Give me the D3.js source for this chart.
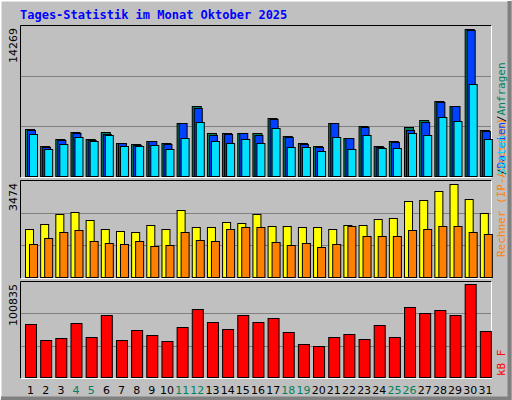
<!DOCTYPE html><html><head><script src="https://cdn.jsdelivr.net/npm/d3@7"></script>
<style>body{margin:0;background:#fff}</style></head><body><svg id="c" width="512" height="400"></svg>
<script>
const days=d3.range(1,32).map(String);
const weekend=["4","5","11","12","18","19","25","26"];
const anfragen=[4507,2911,3568,4226,3568,4226,3193,3099,3380,3193,5071,6667,4132,4132,4132,4132,5540,3850,3193,2911,5071,3662,4789,2911,3380,4695,5352,7136,6667,13897,4413];
const dateien=[4413,2817,3474,4132,3474,4038,3193,3005,3380,3099,5071,6479,3944,4038,4132,3944,5446,3756,3099,2817,5071,3662,4695,2817,3287,4413,5165,7043,6667,13803,4319];
const seiten=[4038,2629,3099,3756,3380,3944,2911,2911,3005,2629,3662,5165,3380,3193,3568,3193,4601,2817,2817,2441,3756,2629,3944,2723,2723,4132,3944,5634,5258,8733,3568];
const besuche=[1735,1912,2266,2336,2053,1735,1664,1628,1876,1735,2407,1805,1805,1982,1947,2266,1841,1841,1805,1805,1735,1876,1876,2089,2124,2726,2761,3080,3328,2797,2301];
const rechner=[1204,1416,1628,1699,1310,1239,1204,1310,1133,1168,1628,1345,1310,1735,1805,1805,1274,1168,1239,1097,1204,1841,1487,1487,1487,1699,1735,1841,1841,1628,1558];
const kbytes=[56133,39501,41580,57173,42620,65489,39501,49896,44699,38462,53015,71726,58212,50936,65489,58212,62370,47817,35343,33264,42620,45738,40541,55094,42620,73805,67568,70686,65489,97713,48857];
const maxTop=14269,maxMid=3474,maxBot=100835;
const svg=d3.select("#c");
svg.append("rect").attr("x",0).attr("y",0).attr("width",512).attr("height",400).attr("fill","#c0c0c0");
svg.append("path").attr("d","M0.5,399.5V0.5H511.5").attr("stroke","#fff").attr("stroke-width",2).attr("fill","none");
svg.append("path").attr("d","M1,398.5H509.5V1").attr("stroke","#808080").attr("stroke-width",4).attr("fill","none");
svg.append("text").attr("x",20).attr("y",19).text("Tages-Statistik im Monat Oktober 2025")
 .attr("font-family","DejaVu Sans Mono").attr("font-weight","bold").attr("font-size",12).attr("fill","#0000ff");
const x=d3.scaleBand().domain(days).range([21,491]).paddingInner(0);
const L=20,R=491;
function panel(y0,y1,max,label){
  svg.append("rect").attr("x",L+0.5).attr("y",y0+0.5).attr("width",R-L).attr("height",y1-y0).attr("fill","#c0c0c0").attr("stroke","none");
  const y=d3.scaleLinear().domain([0,max]).range([y1,y0]);
  [max/3,2*max/3].forEach(v=>svg.append("line").attr("x1",L).attr("x2",R).attr("y1",Math.round(y(v))+0.5).attr("y2",Math.round(y(v))+0.5).attr("stroke","#808080"));
  svg.append("path").attr("d",`M${L+0.5},${y1+0.5}V${y0+0.5}H${R+0.5}`).attr("stroke","#000").attr("fill","none");
  svg.append("path").attr("d",`M${L+0.5},${y1+0.5}H${R+0.5}V${y0+0.5}`).attr("stroke","#fff").attr("fill","none");
  svg.append("text").attr("transform",`translate(17,${y0+3}) rotate(-90)`).attr("text-anchor","end").text(label)
   .attr("font-family","DejaVu Sans").attr("font-size",11).attr("fill","#000");
  return y;
}
function bars(y,data,off,w,color){
  svg.append("g").selectAll("rect").data(data).join("rect")
   .attr("x",(d,i)=>x(days[i])+off+0.5).attr("y",d=>Math.round(y(d))+0.5)
   .attr("width",w).attr("height",d=>y(0)-Math.round(y(d))-1)
   .attr("fill",color).attr("stroke","#000");
}
const y1=panel(25,177,maxTop,"14269");
bars(y1,anfragen,4,9,"#00805f");bars(y1,dateien,6,8,"#0040ff");bars(y1,seiten,8,8,"#00e0ff");
const y2=panel(180,278,maxMid,"3474");
bars(y2,besuche,4,8,"#ffff00");bars(y2,rechner,8,8,"#ff8000");
const y3=panel(281,378,maxBot,"100835");
bars(y3,kbytes,4,11,"#ff0000");
svg.append("g").selectAll("text").data(days).join("text")
 .attr("x",d=>x(d)+x.bandwidth()/2+2).attr("y",394).attr("text-anchor","middle").text(d=>d)
 .attr("font-family","DejaVu Sans").attr("font-size",11).attr("fill",d=>weekend.includes(d)?"#00805f":"#000");
function vlab(y,parts){
  const t=svg.append("text").attr("transform",`translate(505,${y}) rotate(-90)`).attr("font-family","DejaVu Sans Mono").attr("font-size",11);
  parts.forEach(p=>t.append("tspan").text(p[0]).attr("fill",p[1]));
}
vlab(257,[["Rechner (IP-Adressen)","#ff8000"]]);
vlab(175,[["/","#000"],["Dateien","#0040ff"],["/","#000"],["Anfragen","#00805f"]]);
vlab(175,[["Seiten","#00e0ff"]]);
vlab(376,[["kB F","#ff0000"]]);
</script></body></html>
